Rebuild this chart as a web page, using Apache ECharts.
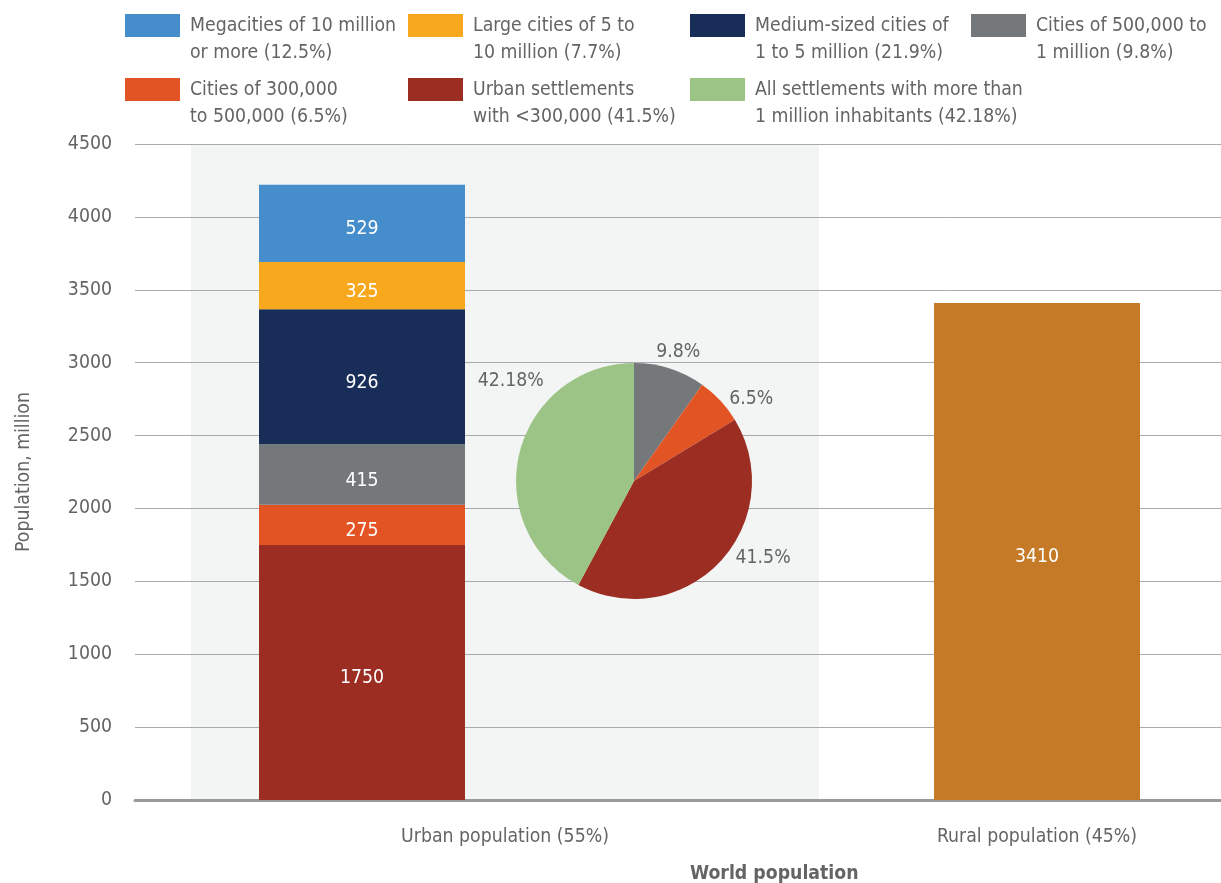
<!DOCTYPE html>
<html>
<head>
<meta charset="utf-8">
<script src="https://cdn.jsdelivr.net/npm/echarts@6/dist/echarts.min.js"></script>
<style>html,body{margin:0;padding:0;background:#fff}#c{width:1221px;height:883px}</style>
</head>
<body>
<div id="c"></div>
<script>
// ---- data ----
const categories = ['Urban population (55%)', 'Rural population (45%)'];
const urbanNames = [
  'Urban settlements\nwith <300,000 (41.5%)',
  'Cities of 300,000\nto 500,000 (6.5%)',
  'Cities of 500,000 to\n1 million (9.8%)',
  'Medium-sized cities of\n1 to 5 million (21.9%)',
  'Large cities of 5 to\n10 million (7.7%)',
  'Megacities of 10 million\nor more (12.5%)'
];
const urbanValues = [1750, 275, 415, 926, 325, 529];
const ruralName = 'Rural population';
const ruralValues = [3410];
const pieNames = [
  'Cities of 500,000 to\n1 million (9.8%)',
  'Cities of 300,000\nto 500,000 (6.5%)',
  'Urban settlements\nwith <300,000 (41.5%)',
  'All settlements with more than\n1 million inhabitants (42.18%)'
];
const pieValues = [9.8, 6.5, 41.5, 42.18];
const yTicks = { min: 0, max: 4500, interval: 500 };
const axisTitleY = 'Population, million';
const axisTitleX = 'World population';

// ---- styles ----
const FONT = '"DejaVu Sans Condensed", "Liberation Sans Narrow", sans-serif';
const FS = 19.3;
const TXT = '#636466';
const urbanColors = ['#9b2d22', '#e35424', '#75787b', '#182d58', '#f7a81d', '#468dcb'];
const pieColors = ['#75787b', '#e35424', '#9b2d22', '#9dc487'];
const pieLabelOffsets = [[-21, -9], [-2, 4], [5, -10], [37, -69]];
const ruralColor = '#c57a28';

const legendCols = [125, 408, 690, 971];
const legendRows = [14, 78];
const legendOrder = [
  urbanNames[5], urbanNames[4], urbanNames[3], urbanNames[2],
  urbanNames[1], urbanNames[0], pieNames[3]
];
const legends = legendOrder.map((name, i) => ({
  data: [name],
  orient: 'vertical',
  left: legendCols[i % 4],
  top: legendRows[Math.floor(i / 4)] - 29,
  padding: 0,
  itemWidth: 55,
  itemHeight: 23,
  icon: 'rect',
  selectedMode: false,
  formatter: (n) => '\n' + n,
  textStyle: { fontFamily: FONT, fontSize: FS, color: TXT, lineHeight: 27, padding: [0, 0, 0, 5] }
}));

const gridTop = 144, gridBottom = 83;
const hiddenY = (g) => ({ type: 'value', gridIndex: g, min: yTicks.min, max: yTicks.max, interval: yTicks.interval, show: false, splitLine: { show: false } });
const catLabel = { show: true, fontFamily: FONT, fontSize: FS, color: TXT, margin: 27 };
const barLabel = { show: true, position: 'inside', offset: [0, 6], color: '#fff', fontFamily: FONT, fontSize: FS };

const option = {
  animation: false,
  backgroundColor: '#fff',
  textStyle: { fontFamily: FONT },
  title: {
    text: axisTitleX, left: 690, top: 864, padding: 0,
    textStyle: { fontFamily: FONT, fontSize: FS, fontWeight: 'bold', color: TXT }
  },
  legend: legends,
  grid: [
    { left: 135, right: 0, top: gridTop, bottom: gridBottom },
    { left: 191, right: 402, top: gridTop, bottom: gridBottom, show: true, backgroundColor: '#f3f4f4', borderWidth: 0 },
    { left: 259, right: 756, top: gridTop, bottom: gridBottom },
    { left: 934, right: 81, top: gridTop, bottom: gridBottom }
  ],
  xAxis: [
    { type: 'category', gridIndex: 0, data: [''], axisLine: { show: true, lineStyle: { color: '#9a9a9a', width: 3 } }, axisTick: { show: false }, axisLabel: { show: false } },
    { type: 'category', gridIndex: 1, data: [categories[0]], axisLine: { show: false }, axisTick: { show: false }, axisLabel: catLabel },
    { type: 'category', gridIndex: 2, data: [categories[0]], show: false },
    { type: 'category', gridIndex: 3, data: [categories[1]], axisLine: { show: false }, axisTick: { show: false }, axisLabel: catLabel }
  ],
  yAxis: [
    {
      type: 'value', gridIndex: 0, min: yTicks.min, max: yTicks.max, interval: yTicks.interval,
      axisLine: { show: false }, axisTick: { show: false },
      axisLabel: { fontFamily: FONT, fontSize: FS, color: TXT, margin: 23, formatter: (v) => String(v) },
      splitLine: { lineStyle: { color: '#a9aaac', width: 1 } },
      name: axisTitleY, nameLocation: 'middle', nameGap: 102,
      nameTextStyle: { fontFamily: FONT, fontSize: FS, color: TXT }
    },
    hiddenY(1), hiddenY(2), hiddenY(3)
  ],
  series: [
    ...urbanNames.map((name, i) => ({
      type: 'bar', name, stack: 'urban', xAxisIndex: 2, yAxisIndex: 2,
      barWidth: '100%', data: [urbanValues[i]],
      itemStyle: { color: urbanColors[i] },
      label: barLabel
    })),
    {
      type: 'bar', name: ruralName, xAxisIndex: 3, yAxisIndex: 3, barWidth: '100%', data: ruralValues,
      itemStyle: { color: ruralColor },
      label: barLabel
    },
    {
      type: 'pie', name: 'share', center: [634, 481], radius: 118, startAngle: 90, clockwise: true,
      avoidLabelOverlap: false,
      data: pieNames.map((n, i) => ({
        name: n, value: pieValues[i], itemStyle: { color: pieColors[i] },
        label: { offset: pieLabelOffsets[i] }
      })),
      label: { show: true, position: 'outside', formatter: (p) => p.value + '%', fontFamily: FONT, fontSize: FS, color: TXT },
      labelLine: { show: false, length: 8, length2: 0 },
      emphasis: { disabled: true }
    }
  ]
};
echarts.init(document.getElementById('c'), null, { renderer: 'canvas' }).setOption(option);
</script>
</body>
</html>
